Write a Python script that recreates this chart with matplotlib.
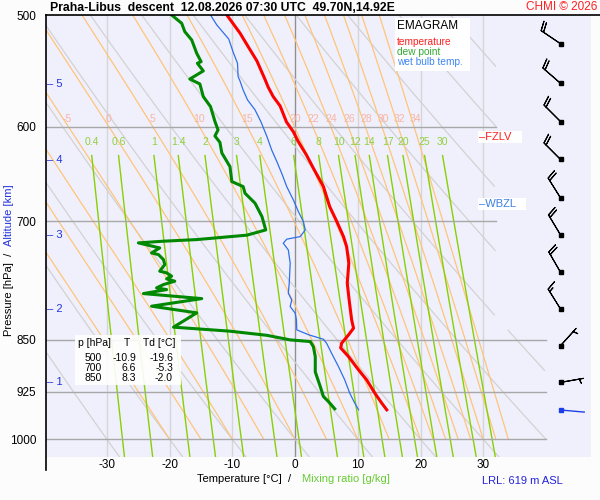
import numpy as np
import matplotlib.pyplot as plt
from matplotlib.lines import Line2D
from matplotlib.patches import Rectangle
from matplotlib.ticker import NullLocator

plt.rcParams['font.family'] = ['Liberation Sans', 'DejaVu Sans']

# ---- sounding data (hPa, degC) ----
temp_p = [500, 515, 526.5, 539, 555.6, 562.6, 571.3, 580.1, 595.3, 605, 614.9,
          628.5, 642.2, 661.7, 683.7, 700, 718, 729.8, 749.8, 774.7, 796.2,
          822.6, 833.8, 843, 854.5, 861.1, 873.4, 892.6, 907.3, 927.2, 942.4, 952.7]
temp_t = [-10.9, -8.8, -7.5, -6.1, -4.8, -4.3, -3.5, -2.4, -1.4, -0.3, 0.5,
          1.8, 2.9, 4.5, 5.5, 6.6, 7.7, 8.2, 8.55, 8.3, 8.6,
          9.0, 9.3, 8.5, 7.4, 7.25, 8.5, 10.1, 11.4, 12.7, 13.8, 14.6]

dew_p = [500, 506.8, 513.8, 520.8, 532.3, 539.6, 541.0, 547.8, 555.1, 559.6,
         571.3, 580.7, 594.9, 603.2, 609.2, 615.6, 626.3, 640.5, 656.3, 661.7,
         668.9, 679.9, 694.9, 710.2, 716.3, 721.5, 723.4, 725.4, 731.4, 737.4,
         739.4, 745.5, 751.6, 759.7, 761.8, 765.9, 769.3, 772.2, 776.5, 780.7,
         782.9, 788.0, 794.5, 804.4, 813.2, 832.4, 837.9, 843.6, 849.9, 852.2,
         859.3, 873.4, 895.5, 917.3, 932.2, 939.9, 951.1]
dew_t = [-19.7, -18.1, -17.6, -16.5, -15.7, -15.0, -15.6, -14.65, -16.8, -15.2,
         -14.65, -13.5, -12.8, -12.3, -12.8, -12.0, -11.7, -10.4, -10.1, -8.3,
         -8.0, -6.4, -5.3, -4.7, -7.7, -15.7, -21.0, -25.0, -21.6, -22.9,
         -21.8, -21.0, -20.8, -21.6, -20.5, -19.7, -20.5, -19.2, -21.0, -22.1,
         -20.5, -24.2, -14.9, -22.9, -15.7, -19.4, -10.4, -4.5, -0.8, 2.4,
         2.9, 3.2, 3.2, 4.0, 4.5, 5.3, 6.3]

wb_p = [500, 508.2, 520.0, 531.1, 541.0, 552.9, 556.9, 565.1, 574.4, 583.8,
        595.4, 609.9, 623.3, 635.6, 647.5, 661.7, 676.2, 689.2, 700.5, 710.2,
        718.0, 721.0, 725.8, 733.8, 749.8, 774.7, 787.5, 796.2, 804.9, 813.6,
        822.6, 836.1, 843.0, 849.0, 854.5, 868.6, 887.8, 907.3, 927.2, 942.4, 952.7]
wb_t = [-13.5, -12.5, -10.6, -9.9, -9.2, -9.1, -8.8, -8.3, -7.6, -6.4,
        -5.45, -4.5, -3.75, -2.9, -2.15, -1.35, -0.3, 0.5, 1.3, 1.6,
        0.8, -1.35, -1.9, -1.1, -0.8, -0.95, -1.1, -0.55, -0.8, 0.0,
        0.2, 0.25, 2.2, 4.5, 5.0, 5.8, 6.9, 7.9, 8.7, 9.5, 10.1]

# wind (every 500 m from 5.5 km down to 1 km), direction deg, speed kt
wind_p = [524, 559, 595, 633, 674, 716, 761, 808, 858, 911]
wind_dir = [304, 311, 315, 315, 328, 329, 330, 328, 42, 80]
wind_spd = [20, 20, 20, 20, 20, 20, 20, 15, 5, 5]
sfc_p = 953
sfc_dir = 95

alt_km = [1, 2, 3, 4, 5]
alt_p = [911, 808, 716, 634, 560]

table_p = [500, 700, 850]
table_t = [-10.9, 6.6, 8.3]
table_td = [-19.6, -5.3, -2.0]

fzlv_p = 610
wbzl_p = 681

p_levels = [500, 600, 700, 850, 925, 1000]
t_ticks = [-30, -20, -10, 0, 10, 20, 30]
mix_vals = [0.4, 0.6, 1, 1.4, 2, 3, 4, 6, 8, 10, 12, 14, 17, 20, 25, 30]
thw_vals = [-20, -15, -10, -5, 0, 5, 10, 15, 20, 22, 24, 26, 28, 30, 32, 34]
theta_vals = list(range(-30, 110, 10))

W, H = 600, 500
P_BOT = 1029
T_LEFT, T_RIGHT = -39.73, 47.16


def px(x, y):
    return x / W, 1 - y / H


def es(tc):
    return 6.112 * np.exp(17.67 * tc / (tc + 243.5))


def right_edge(p):
    return np.where(p < 835, 32.0, 40.0)


def moist_adiabat(tw):
    # integrate pseudo-adiabat upwards from 1000 hPa
    rd, cp, lv, eps = 287.04, 1005.7, 2.501e6, 0.622
    lnp = np.linspace(np.log(1000), np.log(500), 301)
    t = np.empty_like(lnp)
    t[0] = tw + 273.15

    def f(tk, lp):
        p = np.exp(lp)
        e = es(tk - 273.15)
        rs = eps * e / (p - e)
        return (rd * tk + lv * rs) / (cp + lv ** 2 * rs * eps / (rd * tk ** 2))

    for i in range(1, len(lnp)):
        h = lnp[i] - lnp[i - 1]
        k1 = f(t[i - 1], lnp[i - 1])
        k2 = f(t[i - 1] + h * k1 / 2, lnp[i - 1] + h / 2)
        k3 = f(t[i - 1] + h * k2 / 2, lnp[i - 1] + h / 2)
        k4 = f(t[i - 1] + h * k3, lnp[i])
        t[i] = t[i - 1] + h * (k1 + 2 * k2 + 2 * k3 + k4) / 6
    return np.exp(lnp), t - 273.15


fig = plt.figure(figsize=(6, 5), dpi=100, facecolor='#fcfcfc')
x0, y0 = px(46, 457)
x1, y1 = px(591, 15)
ax = fig.add_axes([x0, y0, x1 - x0, y1 - y0])
ax.set_facecolor('#f0f0fc')
ax.set_yscale('log')
ax.set_xlim(T_LEFT, T_RIGHT)
ax.set_ylim(P_BOT, 500)
for s in ax.spines.values():
    s.set_visible(False)

# vertical temperature lines
for t in t_ticks:
    ax.plot([t, t], [500, P_BOT], color='#909090' if t == 0 else '#d6d6d6',
            lw=1.0, zorder=1)

# dry adiabats
pp = np.exp(np.linspace(np.log(500), np.log(P_BOT), 200))
for th in theta_vals:
    tt = (th + 273.15) * (pp / 1000.0) ** 0.2857 - 273.15
    tt = np.where(tt <= right_edge(pp), tt, np.nan)
    ax.plot(tt, pp, color='#d2d2d2', lw=0.9, zorder=1)

# pseudo-adiabats
for tw in thw_vals:
    mp, mt = moist_adiabat(tw)
    mt = np.where(mt <= right_edge(mp), mt, np.nan)
    ax.plot(mt, mp, color='#ffc47a', lw=0.9, zorder=2)
    if tw >= -5:
        tl = np.interp(593, mp[::-1], mt[::-1])
        ax.text(tl + 0.6, 593, str(tw), color='#f8b4a4', fontsize=7.5,
                ha='center', va='center', zorder=3)

# mixing ratio lines
pm = np.exp(np.linspace(np.log(629), np.log(P_BOT), 100))
for w in mix_vals:
    e = w * pm / (622.0 + w)
    le = np.log(e / 6.112)
    tm = 243.5 * le / (17.67 - le)
    ax.plot(tm, pm, color='#88d000', lw=1.0, zorder=2)
    ax.text(tm[0], 615.6, '%g' % w, color='#90d040', fontsize=7.5,
            ha='center', va='center', zorder=3)

# pressure lines
for p in p_levels[1:]:
    tr = 32.0 if p < 835 else 40.0
    ax.plot([T_LEFT, tr], [p, p], color='#a8a8a8', lw=1.0, zorder=3)

# profiles
ax.plot(wb_t, wb_p, color='#2f6fe8', lw=0.9, zorder=5)
ax.plot(dew_t, dew_p, color='#008800', lw=2.2, zorder=6)
ax.plot(temp_t, temp_p, color='#ff0000', lw=2.2, zorder=7)

# wind barbs
xb = 42.3
d = np.radians(wind_dir)
u = -np.array(wind_spd) * np.sin(d)
v = -np.array(wind_spd) * np.cos(d)
ax.barbs([xb] * len(wind_p), wind_p, u, v, length=5.8, lw=0.8,
         color='k', zorder=8)
ax.plot([xb] * len(wind_p), wind_p, 's', ms=2.5, color='k', zorder=9)
ds = np.radians(sfc_dir)
ax.quiver([xb], [sfc_p], [np.sin(ds)], [np.cos(ds)], angles='uv',
          scale_units='inches', scale=1 / 0.245, headwidth=0, headlength=0,
          headaxislength=0, width=0.0025, color='#1a3fe8', zorder=8)
ax.plot([xb], [sfc_p], 's', ms=2.5, color='#1a3fe8', zorder=9)

# freezing levels
ax.text(29.3, fzlv_p, '\u2013FZLV   ', color='#ff2020', fontsize=8,
        ha='left', va='center', zorder=9,
        bbox=dict(facecolor='white', edgecolor='none', pad=0.6))
ax.text(29.3, wbzl_p, '\u2013WBZL   ', color='#3a7ee6', fontsize=8,
        ha='left', va='center', zorder=9,
        bbox=dict(facecolor='white', edgecolor='none', pad=0.6))

# altitude scale
for h, p in zip(alt_km, alt_p):
    ax.text(T_LEFT + 0.2, p, '\u2013 %d' % h, color='#2233dd', fontsize=8,
            ha='left', va='center', zorder=9)

# ticks
ax.set_yticks(p_levels)
ax.set_yticklabels([str(p) for p in p_levels])
ax.yaxis.set_minor_locator(NullLocator())
ax.set_xticks(t_ticks)
ax.set_xticklabels([str(t) for t in t_ticks])
ax.tick_params(axis='y', length=0, pad=7, labelsize=8.5)
ax.tick_params(axis='x', length=0, pad=1.5, labelsize=8.5)

# frame lines
fig.add_artist(Line2D([46 / W, 46 / W], [1 - 470 / H, 1 - 15 / H],
                      color='k', lw=1.2))
fig.add_artist(Line2D([46 / W, 1.0], [1 - 15 / H, 1 - 15 / H],
                      color='k', lw=1.2))

# title
fig.text(*px(50, 8), 'Praha-Libus  descent  12.08.2026 07:30 UTC  49.70N,14.92E',
         fontsize=8.8, fontweight='bold', ha='left', va='center')
fig.text(*px(597, 7), 'CHMI \u00a9 2026', fontsize=8.5, color='#ff2020',
         ha='right', va='center')

# legend box
fig.add_artist(Rectangle(px(395, 71), 75 / W, 53 / H, transform=fig.transFigure,
                         facecolor='white', edgecolor='none', zorder=10))
fig.text(*px(397, 26), 'EMAGRAM', fontsize=8.5, ha='left', va='center', zorder=11)
fig.text(*px(397, 42), 'temperature', fontsize=7.3, color='#ff2020',
         ha='left', va='center', zorder=11)
fig.text(*px(397, 52), 'dew point', fontsize=7.3, color='#33aa33',
         ha='left', va='center', zorder=11)
fig.text(*px(397, 62), 'wet bulb temp.', fontsize=7.3, color='#3d85f5',
         ha='left', va='center', zorder=11)

# table
fig.add_artist(Rectangle(px(75, 385), 106 / W, 50 / H, transform=fig.transFigure,
                         facecolor='white', edgecolor='none', alpha=0.9, zorder=10))
fig.text(*px(78, 343), 'p [hPa]', fontsize=7.5, ha='left', va='center', zorder=11)
fig.text(*px(127, 343), 'T', fontsize=7.5, ha='center', va='center', zorder=11)
fig.text(*px(143, 343), 'Td [\u00b0C]', fontsize=7.5, ha='left', va='center', zorder=11)
for i, (p, t, td) in enumerate(zip(table_p, table_t, table_td)):
    yy = 358 + 10 * i
    fig.text(*px(102, yy), str(p), fontsize=7.5, ha='right', va='center', zorder=11)
    fig.text(*px(136, yy), '%.1f' % t, fontsize=7.5, ha='right', va='center', zorder=11)
    fig.text(*px(173, yy), '%.1f' % td, fontsize=7.5, ha='right', va='center', zorder=11)

# axis titles
fig.text(*px(291, 479), 'Temperature [\u00b0C]  /', fontsize=8, ha='right', va='center')
fig.text(*px(302, 479), 'Mixing ratio [g/kg]', fontsize=8, color='#66cc33',
         ha='left', va='center')
fig.text(*px(482, 481), 'LRL: 619 m ASL', fontsize=8, color='#2222dd',
         ha='left', va='center')
fig.text(*px(9, 336), 'Pressure [hPa]  /', fontsize=8, rotation=90,
         ha='center', va='bottom')
fig.text(*px(9, 246), 'Altitude [km]', fontsize=8, rotation=90, color='#2233dd',
         ha='center', va='bottom')

fig.savefig('out.png', dpi=100, facecolor=fig.get_facecolor())
